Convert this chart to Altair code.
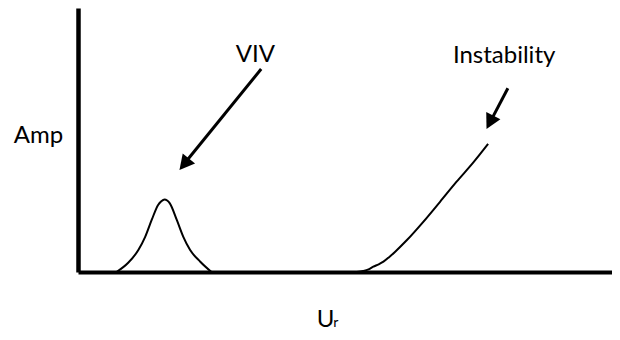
import altair as alt
import pandas as pd

# ---- data (x: reduced velocity U_r, y: amplitude) ----
viv_ur = [0.72, 0.94, 1.13, 1.26, 1.38, 1.50, 1.56, 1.62, 1.67, 1.72, 1.85, 1.97, 2.10, 2.29, 2.50]
viv_amp = [0.0, 0.035, 0.083, 0.134, 0.197, 0.254, 0.268, 0.275, 0.271, 0.260, 0.197, 0.134, 0.083, 0.039, 0.0]

inst_ur = [5.22, 5.34, 5.44, 5.53, 5.63, 5.72, 5.83, 5.94, 6.16, 6.47, 6.78, 7.09, 7.40, 7.68]
inst_amp = [0.0, 0.004, 0.010, 0.020, 0.029, 0.039, 0.057, 0.077, 0.121, 0.191, 0.266, 0.342, 0.414, 0.485]

arrow_label = ["VIV", "Instability"]
arrow_tail_ur = [3.43, 8.05]
arrow_tail_amp = [0.769, 0.696]
arrow_shaft_ur = [1.99, 7.71]
arrow_shaft_amp = [0.410, 0.565]
arrow_tip_ur = [1.90, 7.65]
arrow_tip_amp = [0.386, 0.542]
arrow_angle = [219, 207]
label_ur = [3.32, 7.98]
label_amp = [0.795, 0.792]

x_title = "U"
x_title_sub = ["r"]
x_sub_ur = [4.78]
x_sub_amp = [-0.208]
y_title = "Amp"

# ---- tables ----
curves = pd.DataFrame({
    "ur": viv_ur + inst_ur,
    "amp": viv_amp + inst_amp,
    "series": ["VIV"] * len(viv_ur) + ["Instability"] * len(inst_ur),
})
arrows = pd.DataFrame({
    "label": arrow_label,
    "tail_ur": arrow_tail_ur, "tail_amp": arrow_tail_amp,
    "shaft_ur": arrow_shaft_ur, "shaft_amp": arrow_shaft_amp,
    "tip_ur": arrow_tip_ur, "tip_amp": arrow_tip_amp,
    "angle": arrow_angle,
    "label_ur": label_ur, "label_amp": label_amp,
})
sub = pd.DataFrame({"t": x_title_sub, "ur": x_sub_ur, "amp": x_sub_amp})

FONT = "Lato"
FS = 24
xs = alt.Scale(domain=[0, 10], nice=False, zero=False)
ys = alt.Scale(domain=[0, 1], nice=False, zero=False)

x_axis = alt.Axis(
    title=x_title, domainColor="black", domainWidth=4, ticks=False, labels=False, grid=False,
    titleFont=FONT, titleFontSize=FS, titleFontWeight="normal", titleColor="black",
    titleX=247, titleY=54, titleAlign="center", titleBaseline="alphabetic",
)
y_axis = alt.Axis(
    title=y_title, domainColor="black", domainWidth=4.5, ticks=False, labels=False, grid=False,
    titleFont=FONT, titleFontSize=FS, titleFontWeight="normal", titleColor="black",
    titleAngle=0, titleX=-40, titleY=134, titleAlign="center", titleBaseline="alphabetic",
)

def xenc(field):
    return alt.X(field, scale=xs, axis=x_axis, title=x_title)

def yenc(field):
    return alt.Y(field, scale=ys, axis=y_axis, title=y_title)

lines = alt.Chart(curves).mark_line(interpolate="monotone", strokeWidth=2, color="black").encode(
    x=xenc("ur:Q"), y=yenc("amp:Q"), detail="series:N",
)

shafts = alt.Chart(arrows).mark_rule(strokeWidth=3, color="black").encode(
    x=xenc("tail_ur:Q"), y=yenc("tail_amp:Q"), x2="shaft_ur:Q", y2="shaft_amp:Q",
)

heads = alt.Chart(arrows).mark_point(
    shape="M0,0 L0.53,1 L-0.53,1 Z", filled=True, size=900, color="black", opacity=1, strokeWidth=0
).encode(
    x=xenc("tip_ur:Q"), y=yenc("tip_amp:Q"), angle=alt.Angle("angle:Q", scale=None),
)

labels = alt.Chart(arrows).mark_text(
    font=FONT, fontSize=FS, align="center", baseline="alphabetic", color="black"
).encode(
    x=xenc("label_ur:Q"), y=yenc("label_amp:Q"), text="label:N",
)

subscript = alt.Chart(sub).mark_text(
    font=FONT, fontSize=14, align="left", baseline="alphabetic", color="black"
).encode(
    x=xenc("ur:Q"), y=yenc("amp:Q"), text="t:N",
)

chart = alt.layer(lines, shafts, heads, labels, subscript).properties(
    width=534,
    height=264,
    background="white",
    autosize=alt.AutoSizeParams(type="none"),
    padding={"left": 70, "top": 0, "right": 0, "bottom": 60},
).configure_view(stroke=None)

chart.save("out.html", embed_options={"renderer": "svg", "actions": False})
